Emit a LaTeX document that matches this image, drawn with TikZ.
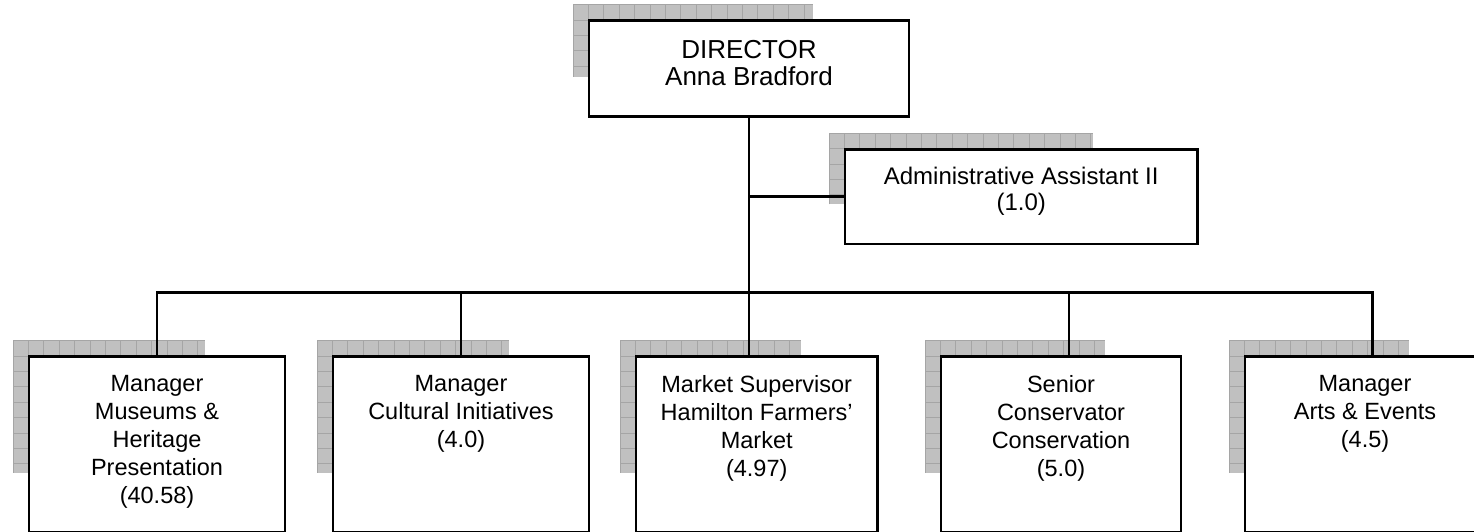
\documentclass[tikz,border=0pt]{standalone}
\usepackage{fontspec}
\setmainfont{Liberation Sans}
\usetikzlibrary{calc}

\definecolor{shadowfill}{RGB}{192,192,192}
\definecolor{shadowgrid}{RGB}{165,165,165}

\tikzset{
  orgbox/.style={draw=black, line width=2.6pt, fill=white, rectangle,
                 inner sep=0pt, outer sep=0pt},
  boxtext/.style={inner sep=0pt, align=center, anchor=north,
                  font=\fontsize{23.5}{28}\selectfont},
  toptext/.style={boxtext, font=\fontsize{26}{27}\selectfont},
  sidetext/.style={boxtext, font=\fontsize{24}{26}\selectfont},
  link/.style={draw=black, line width=2.6pt, line join=miter},
}

% grey grid block set behind a box: corner x, corner y, width, height (px)
\newcommand\gridshade[4]{%
  \begin{scope}[shift={(#1,#2)}]
    \fill[shadowfill] (0,0) rectangle (#3,#4);
    \clip (0,0) rectangle (#3,#4);
    \draw[shadowgrid, line width=0.9pt, step=15.4pt] (0,#4) grid (#3,0);
  \end{scope}}

\begin{document}
\begin{tikzpicture}[x=1pt, y=-1pt]
  \useasboundingbox (0,0) rectangle (1474,531);
  \clip (0,0) rectangle (1474,531);

  % shadows
  \gridshade{573}{4.7}{240}{72}
  \gridshade{829}{133.3}{264}{71}
  \gridshade{13}{340.7}{192}{132}
  \gridshade{317}{340.7}{192}{132}
  \gridshade{620}{340.7}{181}{132}
  \gridshade{925}{340.7}{180}{132}
  \gridshade{1229}{340.7}{180}{132}

  % boxes
  \node[orgbox, minimum width=320pt, minimum height=96pt]   (dir) at (749,68.7) {};
  \node[orgbox, minimum width=352.3pt, minimum height=94.7pt] (adm) at (1021.2,196.7) {};
  \node[orgbox, minimum width=256pt, minimum height=176pt]  (m1) at (157,444.7) {};
  \node[orgbox, minimum width=256pt, minimum height=176pt]  (m2) at (461,444.7) {};
  \node[orgbox, minimum width=241.3pt, minimum height=176pt] (m3) at (756.7,444.7) {};
  \node[orgbox, minimum width=240pt, minimum height=176pt]  (m4) at (1061,444.7) {};
  \node[orgbox, minimum width=240pt, minimum height=176pt]  (m5) at (1365,444.7) {};

  % texts
  \node[toptext]  (tdir) at ([yshift=-19.3pt]dir.north) {DIRECTOR\\Anna Bradford};
  \node[sidetext] (tadm) at ([yshift=-17.4pt]adm.north) {Administrative Assistant II\\(1.0)};
  \node[boxtext]  (t1) at ([yshift=-18.3pt]m1.north) {Manager\\Museums \&\\Heritage\\Presentation\\(40.58)};
  \node[boxtext]  (t2) at ([yshift=-18.3pt]m2.north) {Manager\\Cultural Initiatives\\(4.0)};
  \node[boxtext]  (t3) at ([yshift=-18.3pt]m3.north) {Market Supervisor\\Hamilton Farmers’\\Market\\(4.97)};
  \node[boxtext]  (t4) at ([yshift=-18.3pt]m4.north) {Senior\\Conservator\\Conservation\\(5.0)};
  \node[boxtext]  (t5) at ([yshift=-18.3pt]m5.north) {Manager\\Arts \& Events\\(4.5)};

  % connector anchors
  \coordinate (bus) at (749,292.7);
  \coordinate (d4) at ([xshift=8pt]m4.north);
  \coordinate (d5) at ([xshift=7.7pt]m5.north);

  % connectors
  \draw[link] (dir.south) -- (dir.south |- m3.north);
  \draw[link] (dir.south |- adm.west) -- (adm.west);
  \draw[link] (m1.north) -- (m1.north |- bus) -- (d5 |- bus) -- (d5);
  \draw[link] (m2.north) -- (m2.north |- bus);
  \draw[link] (d4) -- (d4 |- bus);
\end{tikzpicture}
\end{document}
